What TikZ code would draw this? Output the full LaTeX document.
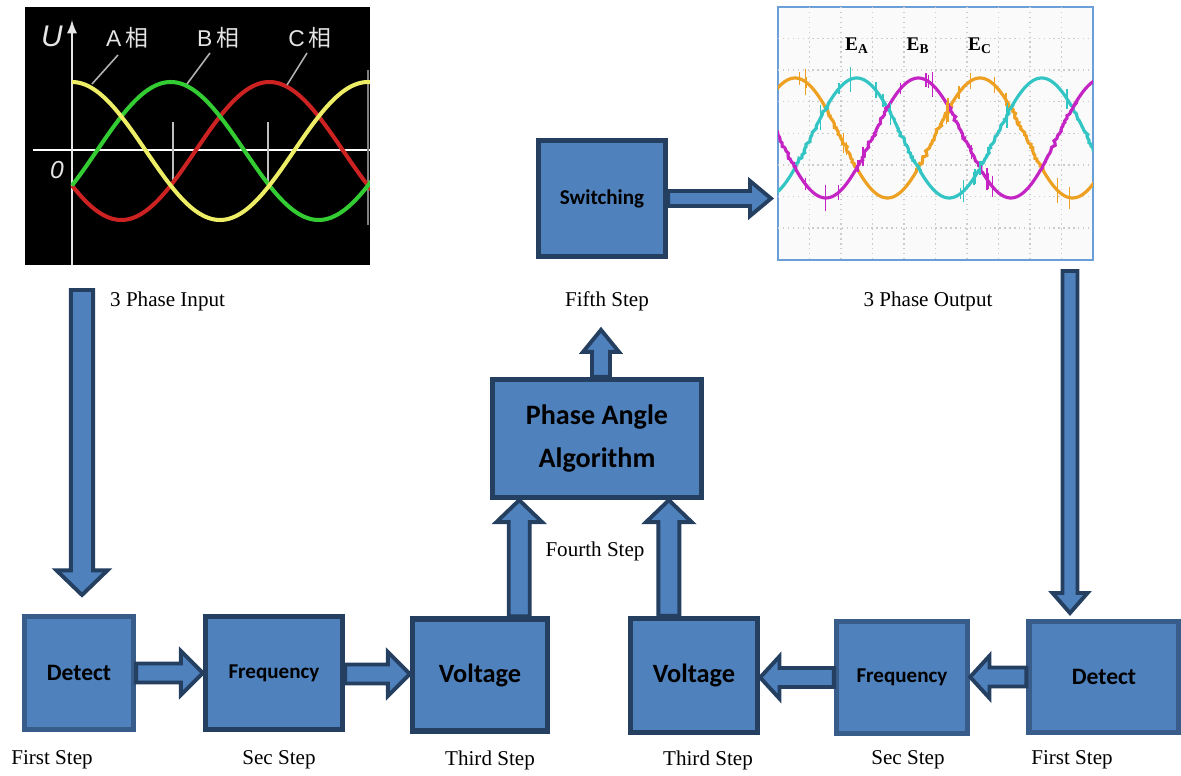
\documentclass[tikz,border=0pt]{standalone}
\usepackage{fontspec}
\setmainfont{Liberation Serif}
\newfontfamily\calibri{Carlito}
\newfontfamily\cjk{Noto Sans CJK SC}
\newfontfamily\plotfont{Liberation Sans}
\usetikzlibrary{%
  calc,%
  decorations.pathmorphing%
}
\definecolor{boxblue}{HTML}{4F81BD}
\definecolor{boxline}{HTML}{385D8A}
\definecolor{darkline}{HTML}{243F60}
\definecolor{waveyellow}{HTML}{EEEE66}
\definecolor{wavegreen}{HTML}{33CC33}
\definecolor{wavered}{HTML}{CC2222}
\definecolor{waveorange}{HTML}{EEA022}
\definecolor{wavecyan}{HTML}{33C4C4}
\definecolor{wavemagenta}{HTML}{C424C4}
\definecolor{scopeframe}{HTML}{6A9FD8}
\tikzset{>=latex,
  block/.style={draw=darkline,fill=boxblue,line width=3pt,
    font=\calibri\bfseries,align=center,inner sep=0pt},
  fatbody/.style={fill=boxblue,draw=darkline,line width=2.2pt,line join=miter},
  steplabel/.style={font=\fontsize{12}{14}\selectfont},
  noisy/.style={decorate,decoration={random steps,segment length=1.5pt,amplitude=0.9pt}}
}

% block arrow: start, tip, shaft half width, head half width, head length
\newcommand{\fatarrow}[5]{%
  \coordinate (fh) at ($(#2)!#5!(#1)$);
  \draw[fatbody] ($(#1)!#3!90:(#2)$) -- ($(fh)!#3!90:(#2)$) --
  ($(fh)!#4!90:(#2)$) -- (#2) -- ($(fh)!#4!-90:(#2)$) --
  ($(fh)!#3!-90:(#2)$) -- ($(#1)!#3!-90:(#2)$) -- cycle;}

\begin{document}
\begin{tikzpicture}[x=0.02cm,y=-0.02cm]
  \useasboundingbox (0,0) rectangle (1181,776);

  % input wave picture
  \node[fill=black,minimum width=6.9cm,minimum height=5.16cm,inner sep=0pt,
    outer sep=0pt] (imgL) at (197.5,136) {};
  \begin{scope}
    \clip (imgL.south west) rectangle (imgL.north east);
    \draw[white,line width=1.3pt] (33,150) -- (370,150);
    \draw[->,white!90!black,line width=1.6pt] (72,265) -- (72,20);
    \draw[white!75!black,line width=1pt] (173,122) -- (173,182);
    \draw[white!75!black,line width=1pt] (268,122) -- (268,182);
    \draw[gray,line width=1.6pt] (368,70) -- (368,225);
    \draw[wavered,line width=2.3pt] plot[domain=72:372,samples=120]
      (\x,{151-69*cos(1.2162*(\x-72)-240)});
    \draw[wavegreen,line width=2.3pt] plot[domain=72:372,samples=120]
      (\x,{151-69*cos(1.2162*(\x-72)-120)});
    \draw[waveyellow,line width=2.3pt] plot[domain=72:372,samples=120]
      (\x,{151-69*cos(1.2162*(\x-72))});
    \draw[white!70!black,line width=0.9pt] (118,55) -- (92,84);
    \draw[white!70!black,line width=0.9pt] (210,53) -- (187,84);
    \draw[white!70!black,line width=0.9pt] (307,53) -- (287,85);
  \end{scope}
  \node[text=white!90!black,font=\plotfont\itshape\fontsize{17}{20}\selectfont]
    (uaxis) at (52,36) {U};
  \node[text=white!90!black,font=\plotfont\itshape\fontsize{14}{16}\selectfont]
    (zero) at (57,170) {0};
  \node[text=white!90!black,font=\plotfont\fontsize{13}{15}\selectfont]
    (pa) at (127,38) {A\,{\cjk 相}};
  \node[text=white!90!black,font=\plotfont\fontsize{13}{15}\selectfont]
    (pb) at (218,38) {B\,{\cjk 相}};
  \node[text=white!90!black,font=\plotfont\fontsize{13}{15}\selectfont]
    (pc) at (310,38) {C\,{\cjk 相}};

  % output wave picture
  \node[fill=white!98!black,draw=scopeframe,line width=1.2pt,minimum width=6.3cm,
    minimum height=5.06cm,inner sep=0pt,outer sep=0pt] (imgR) at (935.5,133.5) {};
  \begin{scope}
    \clip (imgR.south west) rectangle (imgR.north east);
    \foreach \gx in {1,...,9}
      \draw[gray!40,dotted,line width=0.8pt] (778+31.5*\gx,7) -- (778+31.5*\gx,260);
    \foreach \gy in {1,...,7}
      \draw[gray!40,dotted,line width=0.8pt] (778,7+31.6*\gy) -- (1093,7+31.6*\gy);
    \draw[waveorange,line width=1.8pt,noisy] plot[domain=776:1095,samples=160]
      (\x,{138-60*cos(1.9459*(\x-795))});
    \draw[wavecyan,line width=1.8pt,noisy] plot[domain=776:1095,samples=160]
      (\x,{138-60*cos(1.9459*(\x-795)-120)});
    \draw[wavemagenta,line width=1.8pt,noisy] plot[domain=776:1095,samples=160]
      (\x,{138-60*cos(1.9459*(\x-795)-240)});
    \pgfmathsetseed{11}
    \foreach \k in {1,...,14}{
      \pgfmathsetmacro{\sl}{5+rnd*9}
      \pgfmathsetmacro{\sx}{785+rnd*300}
      \draw[waveorange,line width=0.8pt] (\sx,{138-60*cos(1.9459*(\sx-795))-\sl})
        -- (\sx,{138-60*cos(1.9459*(\sx-795))+\sl});
      \pgfmathsetmacro{\sx}{785+rnd*300}
      \draw[wavecyan,line width=0.8pt] (\sx,{138-60*cos(1.9459*(\sx-795)-120)-\sl})
        -- (\sx,{138-60*cos(1.9459*(\sx-795)-120)+\sl});
      \pgfmathsetmacro{\sx}{785+rnd*300}
      \draw[wavemagenta,line width=0.8pt] (\sx,{138-60*cos(1.9459*(\sx-795)-240)-\sl})
        -- (\sx,{138-60*cos(1.9459*(\sx-795)-240)+\sl});
    }
  \end{scope}
  \node[font=\bfseries\fontsize{11}{12}\selectfont] (ea) at (857,46) {E\textsubscript{A}};
  \node[font=\bfseries\fontsize{11}{12}\selectfont] (eb) at (918,46) {E\textsubscript{B}};
  \node[font=\bfseries\fontsize{11}{12}\selectfont] (ec) at (980,46) {E\textsubscript{C}};

  % blocks
  \node[block,draw=boxline,minimum width=2.18cm,minimum height=2.26cm,
    font=\calibri\bfseries\fontsize{13.4}{16}\selectfont] (detL) at (79,673) {Detect};
  \node[block,minimum width=2.74cm,minimum height=2.26cm,
    font=\calibri\bfseries\fontsize{12}{14}\selectfont] (freqL) at (274,673) {Frequency};
  \node[block,minimum width=2.7cm,minimum height=2.24cm,
    font=\calibri\bfseries\fontsize{15}{18}\selectfont] (voltL) at (480,675) {Voltage};
  \node[block,minimum width=2.54cm,minimum height=2.28cm,
    font=\calibri\bfseries\fontsize{15}{18}\selectfont] (voltR) at (694,675.5) {Voltage};
  \node[block,draw=boxline,minimum width=2.62cm,minimum height=2.24cm,
    font=\calibri\bfseries\fontsize{12}{14}\selectfont] (freqR) at (902,677.5) {Frequency};
  \node[block,draw=boxline,minimum width=3.0cm,minimum height=2.22cm,
    font=\calibri\bfseries\fontsize{13.4}{16}\selectfont] (detR) at (1104,677) {Detect};
  \node[block,minimum width=4.18cm,minimum height=2.36cm,
    font=\calibri\bfseries\fontsize{16}{24}\selectfont] (paa) at (597,438.5)
    {Phase Angle\\Algorithm};
  \node[block,minimum width=2.54cm,minimum height=2.32cm,
    font=\calibri\bfseries\fontsize{12}{14}\selectfont] (sw) at (602,198.5) {Switching};

  % arrows
  \coordinate (inTop) at (82,290);
  \coordinate (inTip) at (82,595);
  \fatarrow{inTop}{inTip}{6.3pt}{14.5pt}{14pt}
  \coordinate (dlTip) at (detL.east -| freqL.west);
  \fatarrow{detL.east}{dlTip}{5.4pt}{12.5pt}{12.5pt}
  \coordinate (flTip) at ($(freqL.east -| voltL.west)+(0,1)$);
  \coordinate (flOut) at (flTip -| freqL.east);
  \fatarrow{flOut}{flTip}{5.4pt}{12.5pt}{12.5pt}
  \coordinate (vlUp) at ($(voltL.north west)!0.78!(voltL.north east)$);
  \coordinate (vlTip) at (vlUp |- paa.south);
  \fatarrow{vlUp}{vlTip}{6pt}{13pt}{12.5pt}
  \coordinate (vrUp) at ($(voltR.north west)!0.31!(voltR.north east)$);
  \coordinate (vrTip) at (vrUp |- paa.south);
  \fatarrow{vrUp}{vrTip}{6pt}{13pt}{12.5pt}
  \coordinate (paaUp) at ($(paa.north)+(4,0)$);
  \coordinate (paaTip) at ($(paaUp)+(0,-47)$);
  \fatarrow{paaUp}{paaTip}{5.1pt}{10.2pt}{12.5pt}
  \coordinate (swTip) at ($(sw.east -| imgR.west)+(-7,0)$);
  \fatarrow{sw.east}{swTip}{4.3pt}{10pt}{12pt}
  \coordinate (outTop) at (1070,271);
  \coordinate (outTip) at (1070,613);
  \fatarrow{outTop}{outTip}{4.3pt}{10pt}{11.4pt}
  \coordinate (drTip) at (detR.west -| freqR.east);
  \fatarrow{detR.west}{drTip}{5.4pt}{12pt}{11pt}
  \coordinate (frTip) at (freqR.west -| voltR.east);
  \fatarrow{freqR.west}{frTip}{5.4pt}{12pt}{11pt}

  % labels
  \node[steplabel,anchor=west] (inLbl) at (104,301) {3 Phase Input};
  \node[steplabel] (fifth) at (607,301) {Fifth Step};
  \node[steplabel] (outLbl) at (928,301) {3 Phase Output};
  \node[steplabel] (fourth) at (595,551) {Fourth Step};
  \node[steplabel] (s1L) at (52,760) {First Step};
  \node[steplabel] (s2L) at (279,760) {Sec Step};
  \node[steplabel] (s3L) at (490,760) {Third Step};
  \node[steplabel] (s3R) at (708,760) {Third Step};
  \node[steplabel] (s2R) at (908,760) {Sec Step};
  \node[steplabel] (s1R) at (1072,760) {First Step};
\end{tikzpicture}
\end{document}
